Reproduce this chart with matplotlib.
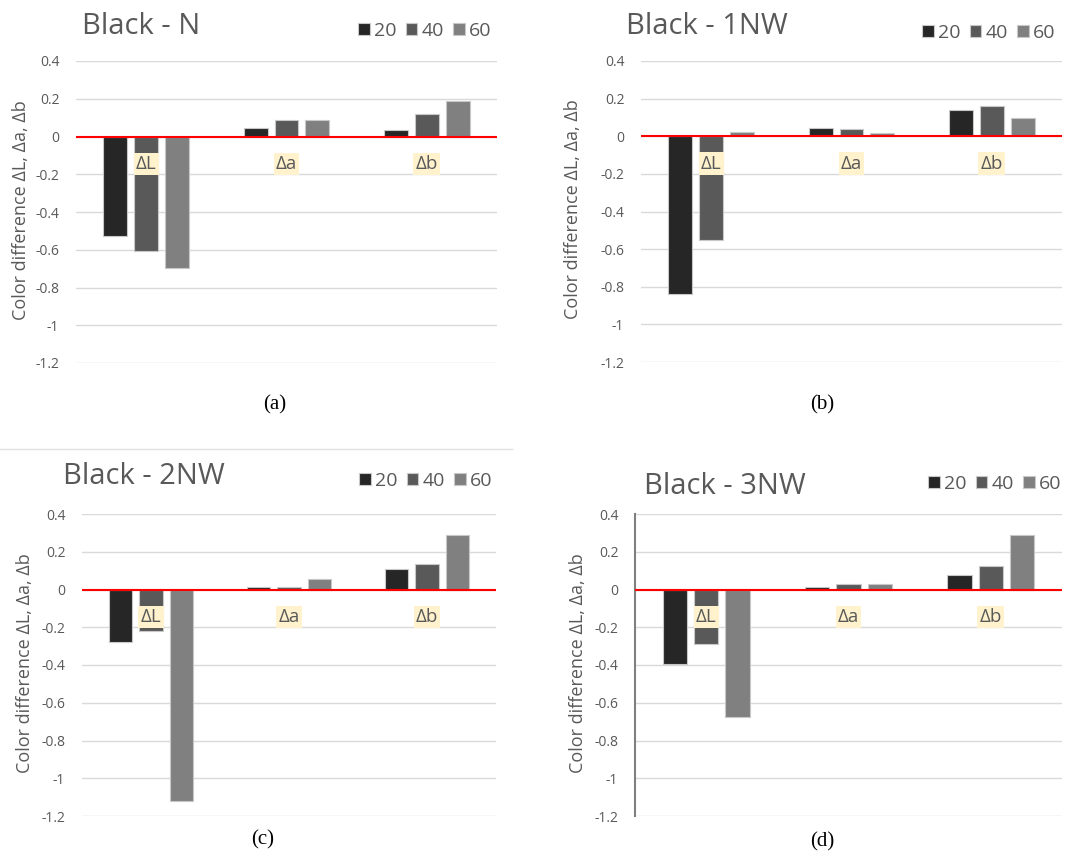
import matplotlib
matplotlib.use("Agg")
import matplotlib.pyplot as plt
from matplotlib.lines import Line2D
import numpy as np

categories = ["ΔL", "Δa", "Δb"]
series_names = ["20", "40", "60"]
titles = ["Black - N", "Black - 1NW", "Black - 2NW", "Black - 3NW"]
captions = ["(a)", "(b)", "(c)", "(d)"]

# values[panel][series][category]
n_20 = [-0.526, 0.044, 0.034]
n_40 = [-0.605, 0.088, 0.120]
n_60 = [-0.696, 0.088, 0.190]

nw1_20 = [-0.839, 0.044, 0.138]
nw1_40 = [-0.552, 0.039, 0.161]
nw1_60 = [0.025, 0.016, 0.099]

nw2_20 = [-0.276, 0.012, 0.109]
nw2_40 = [-0.222, 0.012, 0.136]
nw2_60 = [-1.121, 0.058, 0.289]

nw3_20 = [-0.393, 0.014, 0.078]
nw3_40 = [-0.287, 0.030, 0.122]
nw3_60 = [-0.674, 0.030, 0.287]

panels = [
    [n_20, n_40, n_60],
    [nw1_20, nw1_40, nw1_60],
    [nw2_20, nw2_40, nw2_60],
    [nw3_20, nw3_40, nw3_60],
]
yticks = [0.4, 0.2, 0, -0.2, -0.4, -0.6, -0.8, -1, -1.2]
ytick_labels = ["0.4", "0.2", "0", "-0.2", "-0.4", "-0.6", "-0.8", "-1", "-1.2"]

colors = ["#262626", "#595959", "#808080"]
text_gray = "#595959"

W, H = 1071, 859
fig = plt.figure(figsize=(W / 100, H / 100), dpi=100)
plt.rcParams['font.family'] = ['Open Sans', 'DejaVu Sans']

# axes boxes in pixels: (left, right, top(0.4), bottom(-1.2))
boxes = [(76, 497, 61, 363), (641, 1062, 61, 362), (82, 496, 514, 816), (635, 1062, 514, 816)]
title_pos = [(82, 26), (626, 26), (63, 477), (644, 487)]
ylabel_x = [21, 573, 25, 578]
legend_pos = [(358, 31), (922, 33), (359, 481), (928, 484)]
caption_pos = [(275, 405), (822, 405), (263, 840), (822, 842)]

x = np.arange(len(categories))
offsets = [-0.22, 0.0, 0.22]
bw = 0.17

for i, vals in enumerate(panels):
    l, r, t, b = boxes[i]
    ax = fig.add_axes([l / W, 1 - b / H, (r - l) / W, (b - t) / H])
    handles = []
    for s, sv in enumerate(vals):
        h = ax.bar(x + offsets[s], sv, bw, color=colors[s], edgecolor="#c8c8c8",
                   linewidth=0.8, zorder=3, label=series_names[s])
        handles.append(h)
    ax.set_xlim(-0.5, 2.5)
    ax.set_ylim(-1.2, 0.4)
    ax.set_yticks(yticks)
    ax.set_yticklabels(ytick_labels, color=text_gray, fontsize=10)
    ax.set_xticks([])
    ax.grid(axis="y", color="#d9d9d9", linewidth=1.0, zorder=0)
    for sp in ax.spines.values():
        sp.set_visible(False)
    if i == 3:
        ax.spines["left"].set_visible(True)
        ax.spines["left"].set_color("#7f7f7f")
        ax.spines["left"].set_linewidth(1.5)
    ax.tick_params(axis="y", length=0, pad=12)
    ax.axhline(0, color="#ff0000", linewidth=1.5, zorder=4)
    ax.set_axisbelow(True)
    for c, cat in enumerate(categories):
        ax.text(x[c], -0.145, cat, ha="center", va="center", fontsize=13.5,
                color=text_gray, zorder=5,
                bbox=dict(boxstyle="square,pad=0.12", fc="#fff2cc", ec="none"))
    fig.text(ylabel_x[i] / W, 1 - ((t + b) / 2 - 2) / H, "Color difference ΔL, Δa, Δb",
             rotation=90, ha="center", va="center", fontsize=13, color=text_gray)
    tx, ty = title_pos[i]
    fig.text(tx / W, 1 - ty / H, titles[i], ha="left", va="center", fontsize=21,
             color=text_gray)
    lx, ly = legend_pos[i]
    leg = fig.legend(handles=handles, labels=series_names, loc="center left",
                     bbox_to_anchor=(lx / W, 1 - ly / H), ncol=3, frameon=False,
                     handlelength=0.6, handleheight=0.6, handletextpad=0.2,
                     columnspacing=0.5, borderpad=0, borderaxespad=0, fontsize=14)
    for txt in leg.get_texts():
        txt.set_color(text_gray)
    cx, cy = caption_pos[i]
    fig.text(cx / W, 1 - cy / H, captions[i], ha="center", va="center", fontsize=15,
             family="Liberation Serif", color="black")

# thin separator above panel (c)
fig.add_artist(Line2D([0, 512 / W], [1 - 449 / H, 1 - 449 / H], color="#e0e0e0", linewidth=1))

fig.savefig("out.png", dpi=100)
